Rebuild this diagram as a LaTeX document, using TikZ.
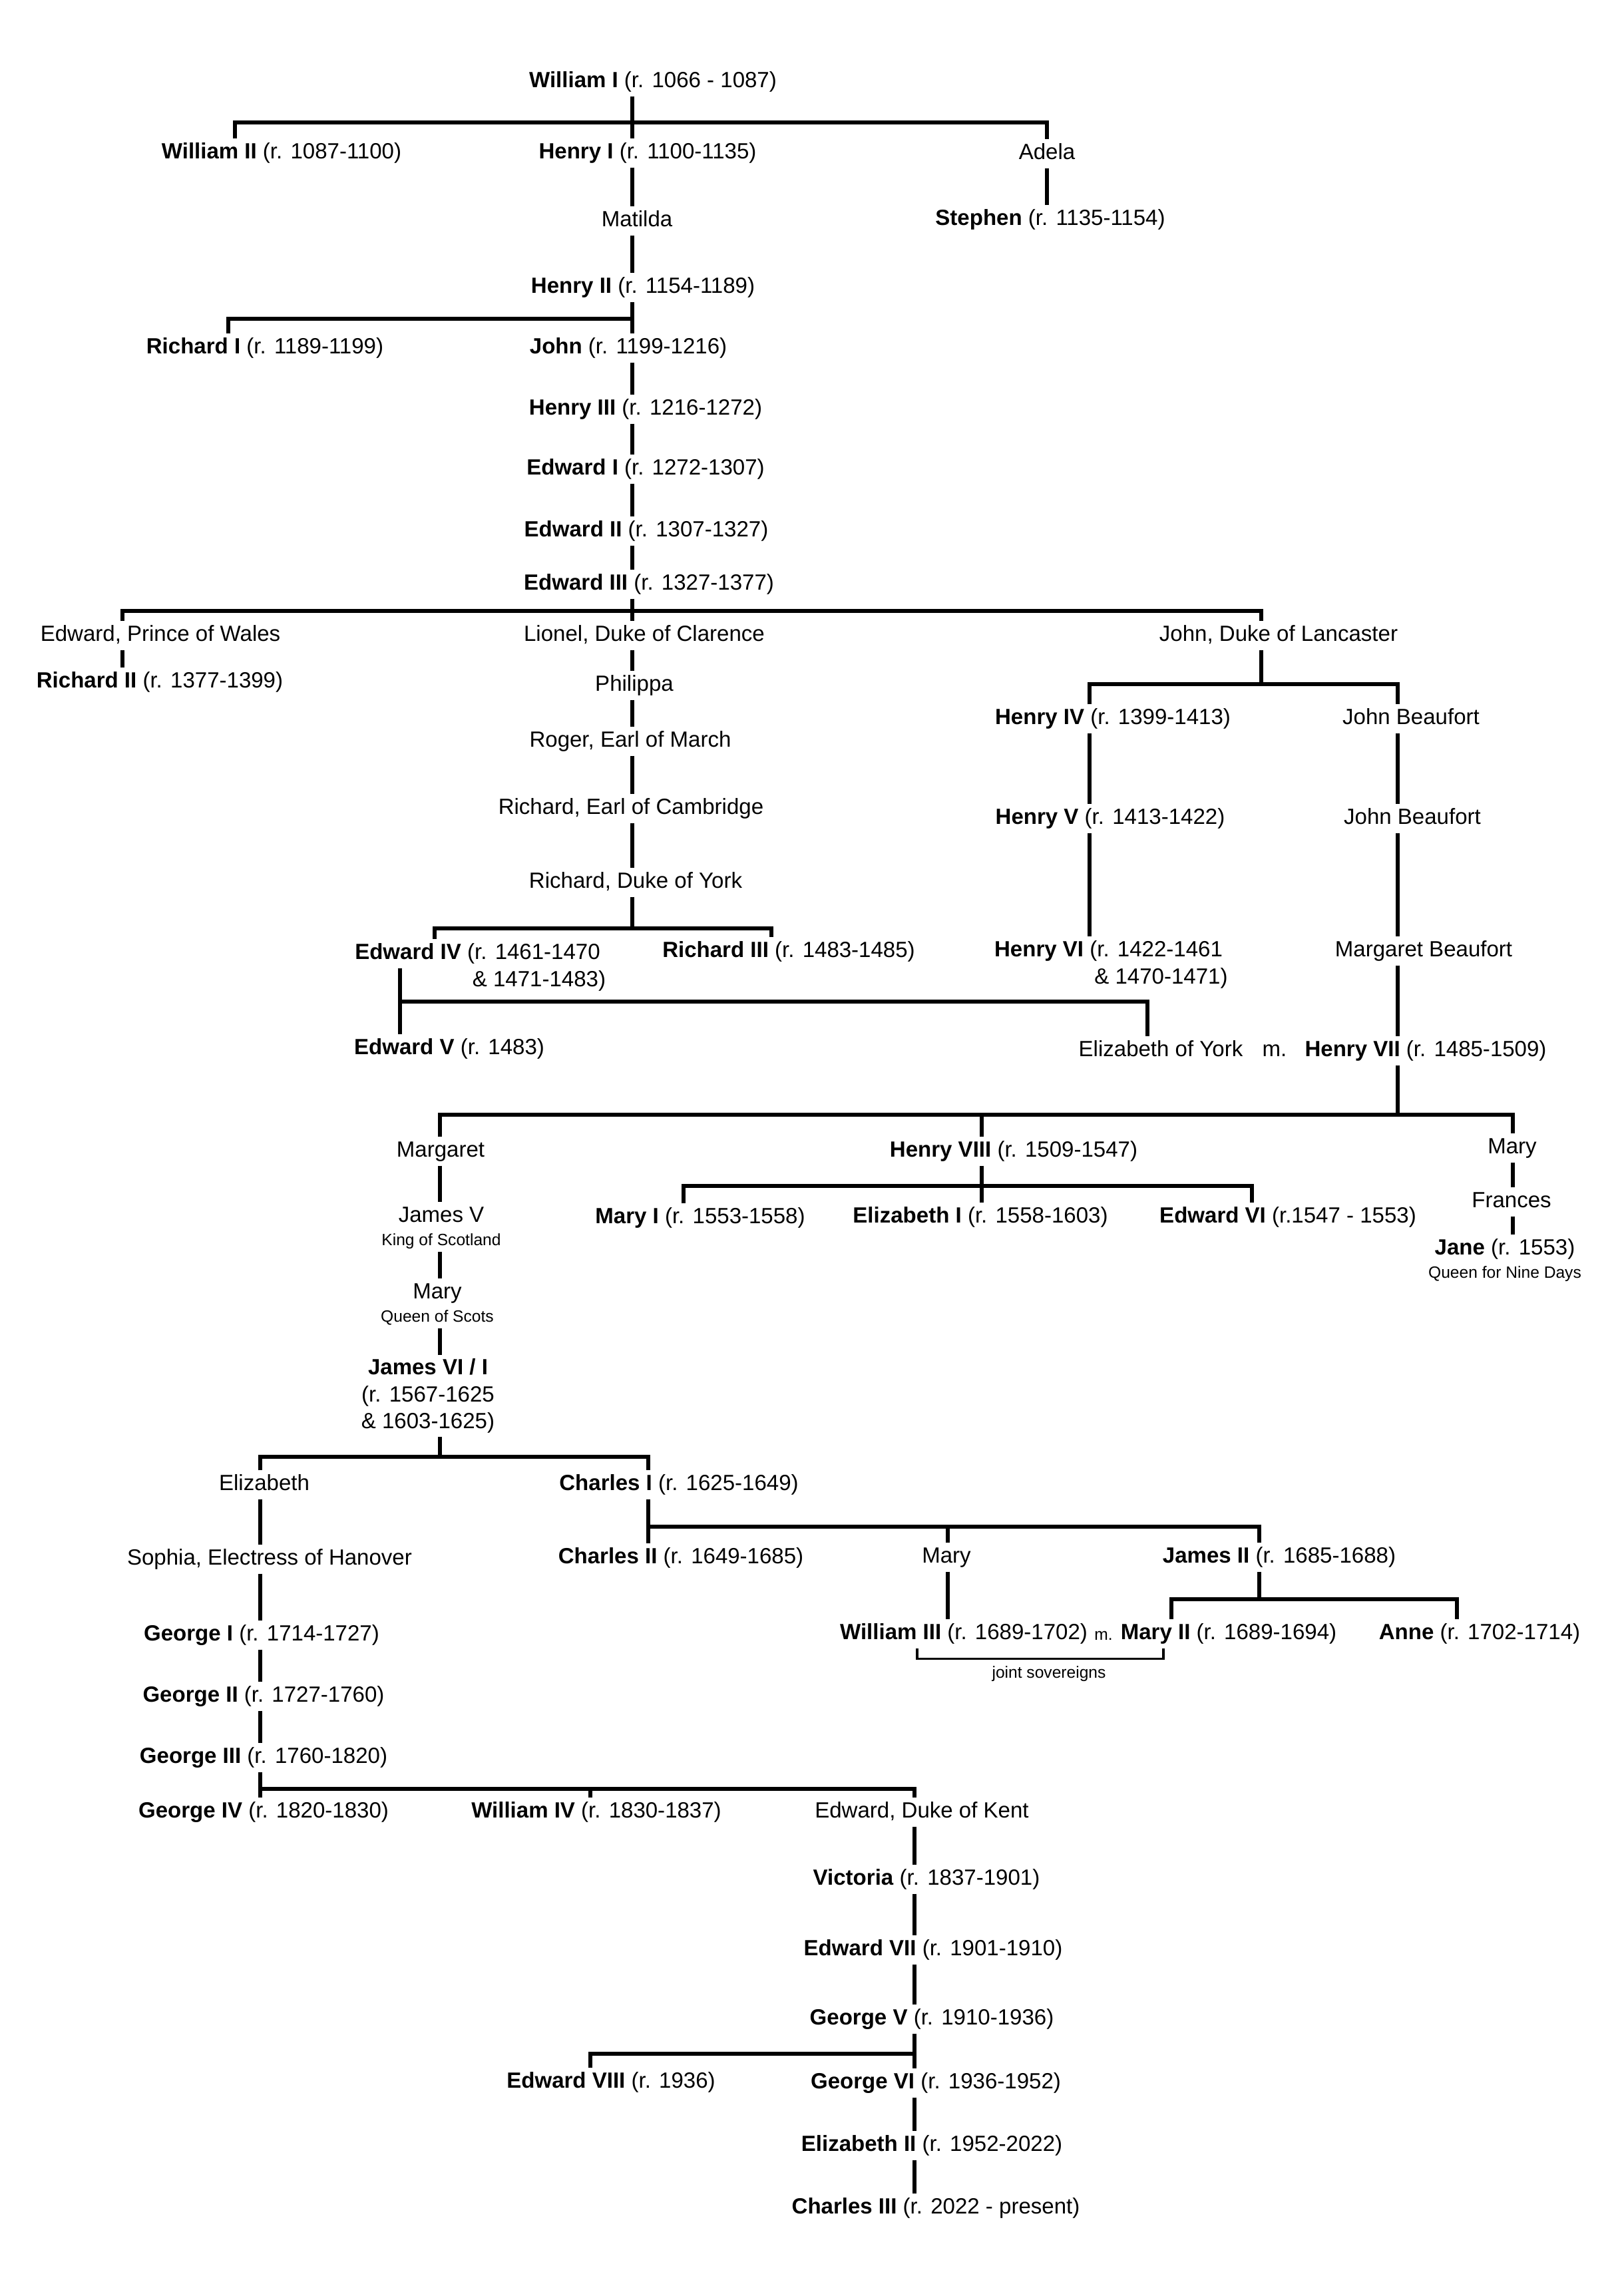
\documentclass[tikz,border=0pt]{standalone}
\usepackage{fontspec}
\setmainfont{Liberation Sans}
\usetikzlibrary{positioning}

\newcommand\rulerfont{\fontsize{9.4}{11.4}\selectfont}
\newcommand\notefont{\fontsize{7}{8.4}\selectfont}

\begin{document}
\begin{tikzpicture}[ruler/.style={font=\rulerfont, inner sep=1.5pt, text height=6.9pt, text depth=2pt},
    block/.style={font=\rulerfont, inner sep=1.5pt, align=center},
    note/.style={font=\notefont, inner sep=1pt, text height=5.1pt, text depth=1.5pt},
    link/.style={line width=1.5pt},
    bracket/.style={line width=0.9pt}]
    \useasboundingbox (0,0) rectangle (24.30,-34.50);

    % columns the stems run down
    \coordinate (cA) at (9.50,0);
    \coordinate (cWII) at (3.53,0);
    \coordinate (cAdela) at (15.73,0);
    \coordinate (cRI) at (3.43,0);
    \coordinate (cEPW) at (1.84,0);
    \coordinate (cJDL) at (18.95,0);
    \coordinate (cHIV) at (16.37,0);
    \coordinate (cJB) at (21.00,0);
    \coordinate (cEIV) at (6.53,0);
    \coordinate (cEIVb) at (6.01,0);
    \coordinate (cRIII) at (11.59,0);
    \coordinate (cEoY) at (17.24,0);
    \coordinate (cMarg) at (6.61,0);
    \coordinate (cHVIII) at (14.75,0);
    \coordinate (cMI) at (10.27,0);
    \coordinate (cEVI) at (18.81,0);
    \coordinate (cMT) at (22.73,0);
    \coordinate (cEliz) at (3.91,0);
    \coordinate (cCI) at (9.74,0);
    \coordinate (cMS) at (14.24,0);
    \coordinate (cJII) at (18.92,0);
    \coordinate (cMII) at (17.60,0);
    \coordinate (cAnne) at (21.89,0);
    \coordinate (cWIV) at (8.87,0);
    \coordinate (cKent) at (13.74,0);
    \coordinate (cJSl) at (13.78,0);
    \coordinate (cJSr) at (17.48,0);

    % junctions of the bars
    \coordinate (j1) at (9.50,-1.84);
    \coordinate (j2) at (9.50,-4.79);
    \coordinate (j3) at (9.50,-9.18);
    \coordinate (j4) at (18.95,-10.28);
    \coordinate (j5) at (9.50,-13.95);
    \coordinate (j6) at (6.01,-15.05);
    \coordinate (j7) at (21.00,-16.75);
    \coordinate (j8) at (14.75,-17.82);
    \coordinate (j9) at (6.61,-21.89);
    \coordinate (j10) at (9.74,-22.94);
    \coordinate (j11) at (18.92,-24.03);
    \coordinate (j12) at (3.91,-26.88);
    \coordinate (j13) at (13.74,-30.86);

    % Normans and Plantagenets
    \node[ruler] (williamI) at (9.81,-1.23) {\textbf{William I} (r. 1066 - 1087)};
    \node[ruler] (williamII) at (4.23,-2.30) {\textbf{William II} (r. 1087-1100)};
    \node[ruler] (henryI) at (9.73,-2.30) {\textbf{Henry I} (r. 1100-1135)};
    \node[ruler] (adela) at (15.73,-2.31) {Adela};
    \node[ruler] (matilda) at (9.57,-3.32) {Matilda};
    \node[ruler] (stephen) at (15.78,-3.30) {\textbf{Stephen} (r. 1135-1154)};
    \node[ruler] (henryII) at (9.66,-4.32) {\textbf{Henry II} (r. 1154-1189)};
    \node[ruler] (richardI) at (3.98,-5.23) {\textbf{Richard I} (r. 1189-1199)};
    \node[ruler] (john) at (9.44,-5.23) {\textbf{John} (r. 1199-1216)};
    \node[ruler] (henryIII) at (9.70,-6.15) {\textbf{Henry III} (r. 1216-1272)};
    \node[ruler] (edwardI) at (9.70,-7.05) {\textbf{Edward I} (r. 1272-1307)};
    \node[ruler] (edwardII) at (9.71,-7.98) {\textbf{Edward II} (r. 1307-1327)};
    \node[ruler] (edwardIII) at (9.75,-8.78) {\textbf{Edward III} (r. 1327-1377)};
    \node[ruler] (edwardPW) at (2.41,-9.55) {Edward, Prince of Wales};
    \node[ruler] (lionel) at (9.68,-9.55) {Lionel, Duke of Clarence};
    \node[ruler] (johnDL) at (19.21,-9.55) {John, Duke of Lancaster};
    \node[ruler] (richardII) at (2.40,-10.25) {\textbf{Richard II} (r. 1377-1399)};
    \node[ruler] (philippa) at (9.53,-10.30) {Philippa};
    \node[ruler] (henryIV) at (16.72,-10.80) {\textbf{Henry IV} (r. 1399-1413)};
    \node[ruler] (johnBa) at (21.20,-10.80) {John Beaufort};
    \node[ruler] (roger) at (9.47,-11.14) {Roger, Earl of March};
    \node[ruler] (richardEC) at (9.48,-12.15) {Richard, Earl of Cambridge};
    \node[ruler] (henryV) at (16.68,-12.30) {\textbf{Henry V} (r. 1413-1422)};
    \node[ruler] (johnBb) at (21.22,-12.30) {John Beaufort};
    \node[ruler] (richardDY) at (9.55,-13.26) {Richard, Duke of York};
    \node[ruler] (edwardIV) at (7.175,-14.33) {\textbf{Edward IV} (r. 1461-1470};
    \node[ruler] (edwardIVb) at (8.10,-14.74) {\& 1471-1483)};
    \node[ruler] (richardIII) at (11.85,-14.30) {\textbf{Richard III} (r. 1483-1485)};
    \node[ruler] (henryVI) at (16.655,-14.29) {\textbf{Henry VI} (r. 1422-1461};
    \node[ruler] (henryVIb) at (17.445,-14.70) {\& 1470-1471)};
    \node[ruler] (margaretB) at (21.39,-14.29) {Margaret Beaufort};
    \node[ruler] (edwardV) at (6.75,-15.76) {\textbf{Edward V} (r. 1483)};
    \node[ruler] (elizYork) at (17.44,-15.79) {Elizabeth of York};
    \node[ruler] (wedA) at (19.15,-15.79) {m.};
    \node[ruler] (henryVII) at (21.42,-15.79) {\textbf{Henry VII} (r. 1485-1509)};

    % Tudors and Stuarts
    \node[ruler] (margaret) at (6.62,-17.30) {Margaret};
    \node[ruler] (henryVIII) at (15.23,-17.30) {\textbf{Henry VIII} (r. 1509-1547)};
    \node[ruler] (maryT) at (22.72,-17.25) {Mary};
    \node[ruler] (frances) at (22.71,-18.06) {Frances};
    \node[ruler] (jamesV) at (6.63,-18.28) {James V};
    \node[note] (jamesVsub) [below=0pt of jamesV] {King of Scotland};
    \node[ruler] (maryI) at (10.52,-18.30) {\textbf{Mary I} (r. 1553-1558)};
    \node[ruler] (elizabethI) at (14.73,-18.29) {\textbf{Elizabeth I} (r. 1558-1603)};
    \node[ruler] (edwardVI) at (19.35,-18.29) {\textbf{Edward VI} (r.1547 - 1553)};
    \node[ruler] (jane) at (22.61,-18.77) {\textbf{Jane} (r. 1553)};
    \node[note] (janeSub) [below=0pt of jane] {Queen for Nine Days};
    \node[ruler] (maryQS) at (6.57,-19.43) {Mary};
    \node[note] (maryQSsub) [below=0pt of maryQS] {Queen of Scots};
    \node[block, anchor=north] (jamesVI) at (6.43,-20.36) {\textbf{James VI / I}\\(r. 1567-1625\\\& 1603-1625)};
    \node[ruler] (elizabeth) at (3.97,-22.31) {Elizabeth};
    \node[ruler] (charlesI) at (10.20,-22.31) {\textbf{Charles I} (r. 1625-1649)};
    \node[ruler] (sophia) at (4.05,-23.43) {Sophia, Electress of Hanover};
    \node[ruler] (charlesII) at (10.23,-23.41) {\textbf{Charles II} (r. 1649-1685)};
    \node[ruler] (maryS) at (14.22,-23.40) {Mary};
    \node[ruler] (jamesII) at (19.22,-23.40) {\textbf{James II} (r. 1685-1688)};
    \node[ruler] (williamIII) at (14.48,-24.55) {\textbf{William III} (r. 1689-1702)};
    \node[note] (wedB) at (16.58,-24.58) {m.};
    \node[ruler] (maryII) at (18.46,-24.55) {\textbf{Mary II} (r. 1689-1694)};
    \node[ruler] (anne) at (22.23,-24.55) {\textbf{Anne} (r. 1702-1714)};
    \node[note] (jointS) at (15.76,-25.15) {joint sovereigns};

    % Hanover to Windsor
    \node[ruler] (georgeI) at (3.93,-24.57) {\textbf{George I} (r. 1714-1727)};
    \node[ruler] (georgeII) at (3.96,-25.49) {\textbf{George II} (r. 1727-1760)};
    \node[ruler] (georgeIII) at (3.96,-26.41) {\textbf{George III} (r. 1760-1820)};
    \node[ruler] (georgeIV) at (3.96,-27.23) {\textbf{George IV} (r. 1820-1830)};
    \node[ruler] (williamIV) at (8.96,-27.23) {\textbf{William IV} (r. 1830-1837)};
    \node[ruler] (kent) at (13.85,-27.23) {Edward, Duke of Kent};
    \node[ruler] (victoria) at (13.92,-28.24) {\textbf{Victoria} (r. 1837-1901)};
    \node[ruler] (edwardVII) at (14.02,-29.30) {\textbf{Edward VII} (r. 1901-1910)};
    \node[ruler] (georgeV) at (14.00,-30.34) {\textbf{George V} (r. 1910-1936)};
    \node[ruler] (edwardVIII) at (9.18,-31.29) {\textbf{Edward VIII} (r. 1936)};
    \node[ruler] (georgeVI) at (14.06,-31.30) {\textbf{George VI} (r. 1936-1952)};
    \node[ruler] (elizabethII) at (14.00,-32.24) {\textbf{Elizabeth II} (r. 1952-2022)};
    \node[ruler] (charlesIII) at (14.06,-33.18) {\textbf{Charles III} (r. 2022 - present)};

    % lines of descent
    \draw[link] (williamI.south -| cA) -- (henryI.north -| cA);
    \draw[link] (williamII.north -| cWII) |- (j1) -| (adela.north -| cAdela);
    \draw[link] (adela.south -| cAdela) -- (stephen.north -| cAdela);
    \draw[link] (henryI.south -| cA) -- (matilda.north -| cA);
    \draw[link] (matilda.south -| cA) -- (henryII.north -| cA);
    \draw[link] (henryII.south -| cA) -- (john.north -| cA);
    \draw[link] (richardI.north -| cRI) |- (j2);
    \draw[link] (john.south -| cA) -- (henryIII.north -| cA);
    \draw[link] (henryIII.south -| cA) -- (edwardI.north -| cA);
    \draw[link] (edwardI.south -| cA) -- (edwardII.north -| cA);
    \draw[link] (edwardII.south -| cA) -- (edwardIII.north -| cA);
    \draw[link] (edwardIII.south -| cA) -- (lionel.north -| cA);
    \draw[link] (edwardPW.north -| cEPW) |- (j3) -| (johnDL.north -| cJDL);
    \draw[link] (edwardPW.south -| cEPW) -- (richardII.north -| cEPW);
    \draw[link] (lionel.south -| cA) -- (philippa.north -| cA);
    \draw[link] (philippa.south -| cA) -- (roger.north -| cA);
    \draw[link] (roger.south -| cA) -- (richardEC.north -| cA);
    \draw[link] (richardEC.south -| cA) -- (richardDY.north -| cA);
    \draw[link] (johnDL.south -| cJDL) -- (j4);
    \draw[link] (henryIV.north -| cHIV) |- (j4) -| (johnBa.north -| cJB);
    \draw[link] (henryIV.south -| cHIV) -- (henryV.north -| cHIV);
    \draw[link] (henryV.south -| cHIV) -- (henryVI.north -| cHIV);
    \draw[link] (johnBa.south -| cJB) -- (johnBb.north -| cJB);
    \draw[link] (johnBb.south -| cJB) -- (margaretB.north -| cJB);
    \draw[link] (margaretB.south -| cJB) -- (henryVII.north -| cJB);
    \draw[link] (richardDY.south -| cA) -- (j5);
    \draw[link] (edwardIV.north -| cEIV) |- (j5) -| (richardIII.north -| cRIII);
    \draw[link] (edwardIV.south -| cEIVb) -- (edwardV.north -| cEIVb);
    \draw[link] (j6) -| (elizYork.north -| cEoY);
    \draw[link] (henryVII.south -| cJB) -- (j7);
    \draw[link] (margaret.north -| cMarg) |- (j7) -| (maryT.north -| cMT);
    \draw[link] (henryVIII.north -| cHVIII) -- (j7 -| cHVIII);
    \draw[link] (henryVIII.south -| cHVIII) -- (elizabethI.north -| cHVIII);
    \draw[link] (maryI.north -| cMI) |- (j8) -| (edwardVI.north -| cEVI);
    \draw[link] (maryT.south -| cMT) -- (frances.north -| cMT);
    \draw[link] (frances.south -| cMT) -- (jane.north -| cMT);
    \draw[link] (margaret.south -| cMarg) -- (jamesV.north -| cMarg);
    \draw[link] (jamesVsub.south -| cMarg) -- (maryQS.north -| cMarg);
    \draw[link] (maryQSsub.south -| cMarg) -- (jamesVI.north -| cMarg);
    \draw[link] (jamesVI.south -| cMarg) -- (j9);
    \draw[link] (elizabeth.north -| cEliz) |- (j9) -| (charlesI.north -| cCI);
    \draw[link] (elizabeth.south -| cEliz) -- (sophia.north -| cEliz);
    \draw[link] (sophia.south -| cEliz) -- (georgeI.north -| cEliz);
    \draw[link] (charlesI.south -| cCI) -- (charlesII.north -| cCI);
    \draw[link] (j10) -| (jamesII.north -| cJII);
    \draw[link] (maryS.north -| cMS) -- (j10 -| cMS);
    \draw[link] (maryS.south -| cMS) -- (williamIII.north -| cMS);
    \draw[link] (jamesII.south -| cJII) -- (j11);
    \draw[link] (maryII.north -| cMII) |- (j11) -| (anne.north -| cAnne);
    \draw[bracket] (williamIII.south -| cJSl) |- ([yshift=2pt]jointS.north) -| (maryII.south -| cJSr);
    \draw[link] (georgeI.south -| cEliz) -- (georgeII.north -| cEliz);
    \draw[link] (georgeII.south -| cEliz) -- (georgeIII.north -| cEliz);
    \draw[link] (georgeIII.south -| cEliz) -- (georgeIV.north -| cEliz);
    \draw[link] (j12) -| (kent.north -| cKent);
    \draw[link] (williamIV.north -| cWIV) -- (j12 -| cWIV);
    \draw[link] (kent.south -| cKent) -- (victoria.north -| cKent);
    \draw[link] (victoria.south -| cKent) -- (edwardVII.north -| cKent);
    \draw[link] (edwardVII.south -| cKent) -- (georgeV.north -| cKent);
    \draw[link] (georgeV.south -| cKent) -- (georgeVI.north -| cKent);
    \draw[link] (edwardVIII.north -| cWIV) |- (j13);
    \draw[link] (georgeVI.south -| cKent) -- (elizabethII.north -| cKent);
    \draw[link] (elizabethII.south -| cKent) -- (charlesIII.north -| cKent);
\end{tikzpicture}
\end{document}
